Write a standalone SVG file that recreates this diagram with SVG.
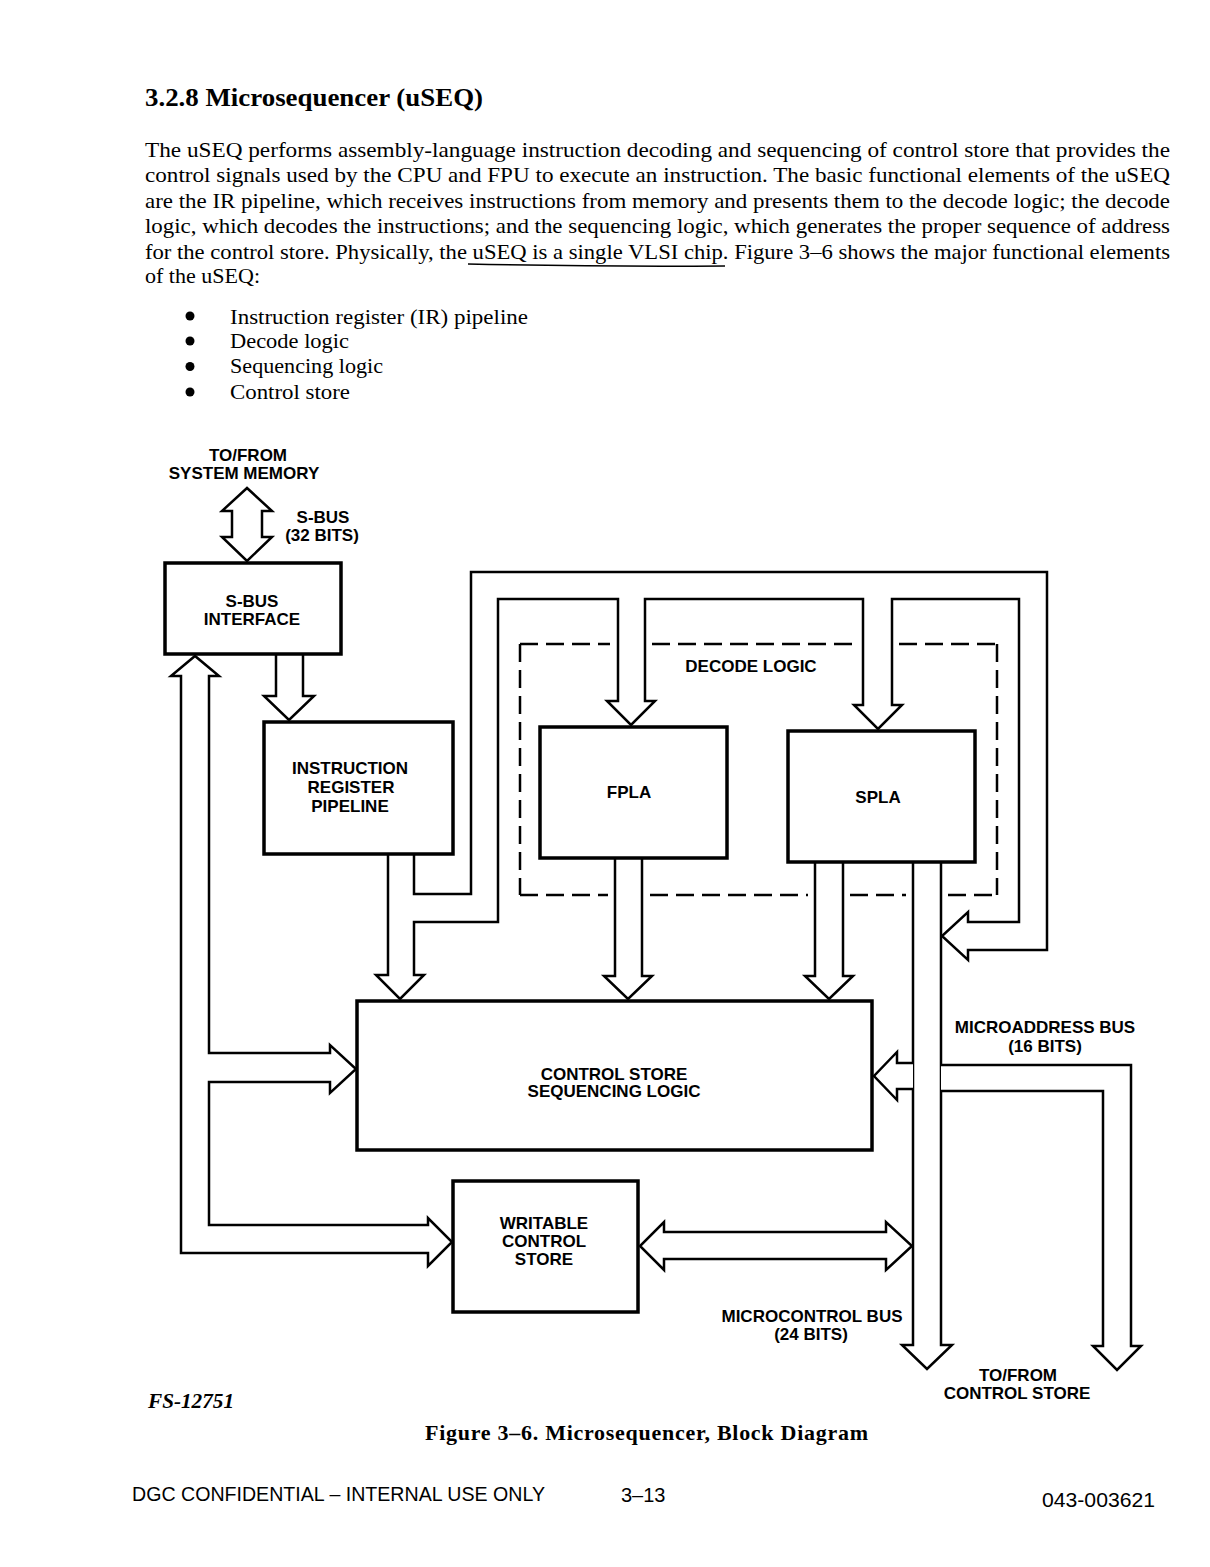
<svg xmlns="http://www.w3.org/2000/svg" width="1210" height="1567" viewBox="0 0 1210 1567">
<style>
.box{fill:#fff;stroke:#000;stroke-width:3.5}
.pipe{fill:#fff;stroke:#000;stroke-width:2.5;stroke-linejoin:miter}
.dash{fill:none;stroke:#000;stroke-width:2.5;stroke-dasharray:18 8}
.lbl{font-family:"Liberation Sans",Arial,Helvetica,sans-serif;font-weight:bold;font-size:17px;text-anchor:middle;fill:#000}
.body{font-family:"Liberation Serif","Times New Roman",serif;font-size:21px;fill:#000}
.hd{font-family:"Liberation Serif","Times New Roman",serif;font-size:26px;font-weight:bold;fill:#000}
.cap{font-family:"Liberation Serif","Times New Roman",serif;font-size:22px;font-weight:bold;fill:#000}
.fs{font-family:"Liberation Serif","Times New Roman",serif;font-size:20px;font-weight:bold;font-style:italic;fill:#000}
.foot{font-family:"Liberation Sans",Arial,Helvetica,sans-serif;font-size:20px;fill:#000}
</style>
<rect width="1210" height="1567" fill="#fff"/>

<g id="text-block">
<text class="hd" x="145" y="106" textLength="338" lengthAdjust="spacingAndGlyphs">3.2.8 Microsequencer (uSEQ)</text>
<text class="body" x="145" y="157" textLength="1025" lengthAdjust="spacingAndGlyphs">The uSEQ performs assembly-language instruction decoding and sequencing of control store that provides the</text>
<text class="body" x="145" y="182.4" textLength="1025" lengthAdjust="spacingAndGlyphs">control signals used by the CPU and FPU to execute an instruction. The basic functional elements of the uSEQ</text>
<text class="body" x="145" y="207.8" textLength="1025" lengthAdjust="spacingAndGlyphs">are the IR pipeline, which receives instructions from memory and presents them to the decode logic; the decode</text>
<text class="body" x="145" y="233.2" textLength="1025" lengthAdjust="spacingAndGlyphs">logic, which decodes the instructions; and the sequencing logic, which generates the proper sequence of address</text>
<text class="body" x="145" y="258.6" textLength="1025" lengthAdjust="spacingAndGlyphs">for the control store. Physically, the uSEQ is a single VLSI chip. Figure 3–6 shows the major functional elements</text>
<text class="body" x="145" y="283" textLength="115" lengthAdjust="spacingAndGlyphs">of the uSEQ:</text>
<path d="M468 264 Q600 267 725 266" fill="none" stroke="#000" stroke-width="1.5"/>
<circle cx="190" cy="316" r="4.5"/>
<circle cx="190" cy="341" r="4.5"/>
<circle cx="190" cy="366.5" r="4.5"/>
<circle cx="190" cy="392" r="4.5"/>
<text class="body" x="230" y="324" textLength="298" lengthAdjust="spacingAndGlyphs">Instruction register (IR) pipeline</text>
<text class="body" x="230" y="348" textLength="119" lengthAdjust="spacingAndGlyphs">Decode logic</text>
<text class="body" x="230" y="373" textLength="153" lengthAdjust="spacingAndGlyphs">Sequencing logic</text>
<text class="body" x="230" y="398.5" textLength="120" lengthAdjust="spacingAndGlyphs">Control store</text>
</g>

<g id="decode-logic">
<path class="dash" d="M520 644 H610 M652 644 H857 M899 644 H997 M997 644 V895 M520 644 V895 M520 895 H608 M650 895 H808 M850 895 H906 M948 895 H997"/>
<text class="lbl" x="751" y="672">DECODE LOGIC</text>
</g>

<g id="connectors">
<path id="sbus-memory" class="pipe" d="M247 488 L272 511 H262 V537 H272 L247 561 L222 537 H232 V511 H222 Z"/>
<path id="sbus-to-ir" class="pipe" d="M276 654 V696 H264 L289 720 L314 696 H303 V654"/>
<path id="sbus-to-cssl-wcs" class="pipe" d="M181 676 H171 L195 656 L219 676 H209 V1053 H330 V1045 L356 1069 L330 1093 V1082 H209 V1225 H428 V1218 L452 1242 L428 1266 V1253 H181 Z"/>
<path id="ir-bus" class="pipe" d="M388 854 V975 H376 L400 999 L424 975 H414 V922 H498 V599 H618 V701 H607 L631 725 L655 701 H645 V599 H863 V705 H854 L878 729 L902 705 H892 V599 H1019 V922 H968 V912 L942 936 L968 960 V950 H1047 V572 H471 V894 H414 V854"/>
<path id="fpla-to-cssl" class="pipe" d="M615 858 V976 H604 L628 999 L652 976 H642 V858"/>
<path id="spla-to-cssl" class="pipe" d="M815 862 V976 H805 L829 999 L853 976 H843 V862"/>
<path id="microcontrol-bus" class="pipe" d="M913 862 V1345 H902 L927 1369 L952 1345 H941 V862"/>
<path id="microaddress-bus" class="pipe" d="M941 1065 H1131 V1346 H1141 L1117 1370 L1093 1346 H1103 V1091 H941"/>
<path id="bus-to-cssl" class="pipe" d="M913 1063 H897 V1052 L874 1076 L897 1100 V1089 H913"/>
<path id="wcs-bus" class="pipe" d="M664 1232 H886 V1222 L912 1246 L886 1270 V1259 H664 V1270 L640 1246 L664 1222 Z"/>
<text class="lbl" x="248" y="461">TO/FROM</text>
<text class="lbl" x="244" y="479">SYSTEM MEMORY</text>
<text class="lbl" x="323" y="523">S-BUS</text>
<text class="lbl" x="322" y="541">(32 BITS)</text>
<text class="lbl" x="1045" y="1033">MICROADDRESS BUS</text>
<text class="lbl" x="1045" y="1052">(16 BITS)</text>
<text class="lbl" x="812" y="1322">MICROCONTROL BUS</text>
<text class="lbl" x="811" y="1340">(24 BITS)</text>
<text class="lbl" x="1018" y="1381">TO/FROM</text>
<text class="lbl" x="1017" y="1399">CONTROL STORE</text>
</g>

<g id="sbus-interface">
<rect class="box" x="165" y="563" width="176" height="91"/>
<text class="lbl" x="252" y="607">S-BUS</text>
<text class="lbl" x="252" y="625">INTERFACE</text>
</g>

<g id="ir-pipeline">
<rect class="box" x="264" y="722" width="189" height="132"/>
<text class="lbl" x="350" y="774">INSTRUCTION</text>
<text class="lbl" x="351" y="793">REGISTER</text>
<text class="lbl" x="350" y="812">PIPELINE</text>
</g>

<g id="fpla">
<rect class="box" x="540" y="727" width="187" height="131"/>
<text class="lbl" x="629" y="798">FPLA</text>
</g>

<g id="spla">
<rect class="box" x="788" y="731" width="187" height="131"/>
<text class="lbl" x="878" y="803">SPLA</text>
</g>

<g id="cssl">
<rect class="box" x="357" y="1001" width="515" height="149"/>
<text class="lbl" x="614" y="1080">CONTROL STORE</text>
<text class="lbl" x="614" y="1097">SEQUENCING LOGIC</text>
</g>

<g id="wcs">
<rect class="box" x="453" y="1181" width="185" height="131"/>
<text class="lbl" x="544" y="1229">WRITABLE</text>
<text class="lbl" x="544" y="1247">CONTROL</text>
<text class="lbl" x="544" y="1265">STORE</text>
</g>

<g id="caption">
<text class="fs" x="148" y="1408" textLength="86" lengthAdjust="spacingAndGlyphs">FS-12751</text>
<text class="cap" x="425" y="1440" textLength="443">Figure 3–6.  Microsequencer, Block Diagram</text>
</g>

<g id="footer">
<text class="foot" x="132" y="1501" textLength="413" lengthAdjust="spacingAndGlyphs">DGC CONFIDENTIAL – INTERNAL USE ONLY</text>
<text class="foot" x="621" y="1502">3–13</text>
<text class="foot" x="1042" y="1507" textLength="113" lengthAdjust="spacingAndGlyphs">043-003621</text>
</g>
</svg>
